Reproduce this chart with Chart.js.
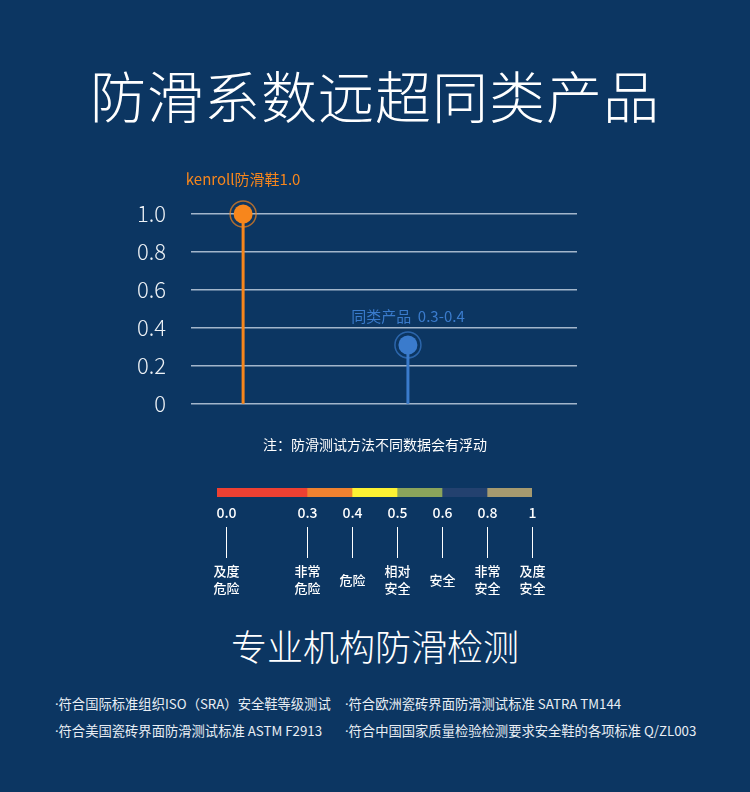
<!DOCTYPE html>
<html>
<head>
<meta charset="utf-8">
<script src="https://cdn.jsdelivr.net/npm/chart.js@4/dist/chart.umd.min.js"></script>
<style>
  body { margin: 0; background: #0c3662; }
  #page { position: relative; width: 750px; height: 792px; background: #0c3662; overflow: hidden;
          font-family: "Noto Sans CJK SC", "Noto Sans", sans-serif; color: #fff; }
  .abs { position: absolute; }
  #title { left: 0; width: 750px; top: 53px; text-align: center; font-size: 56px; font-weight: 300; letter-spacing: 1px; }
  #note { left: 0; width: 750px; top: 434px; text-align: center; font-size: 14px; }
  #sub { left: 0; width: 750px; top: 619px; text-align: center; font-size: 36px; font-weight: 300; }
  .std { font-size: 13.3px; color: #e9eef4; white-space: nowrap; }
  .std b { font-family: "Noto Sans", sans-serif; font-weight: 400; }
</style>
</head>
<body>
<div id="page">
  <div id="title" class="abs">防滑系数远超同类产品</div>
  <div class="abs" style="left:131px; top:160px; width:446px; height:282px;"><canvas id="chartMain"></canvas></div>
  <div id="note" class="abs">注：防滑测试方法不同数据会有浮动</div>
  <div class="abs" style="left:200px; top:478px; width:350px; height:125px;"><canvas id="chartScale"></canvas></div>
  <div id="sub" class="abs">专业机构防滑检测</div>
  <div class="abs std" style="left:55px; top:694px;"><b>·</b>符合国际标准组织ISO（SRA）安全鞋等级测试</div>
  <div class="abs std" style="left:345px; top:694px;"><b>·</b>符合欧洲瓷砖界面防滑测试标准 SATRA TM144</div>
  <div class="abs std" style="left:55px; top:721px;"><b>·</b>符合美国瓷砖界面防滑测试标准 ASTM F2913</div>
  <div class="abs std" style="left:345px; top:721px;"><b>·</b>符合中国国家质量检验检测要求安全鞋的各项标准 Q/ZL003</div>
</div>
<script>
// 数据
const products = ['kenroll防滑鞋1.0', '同类产品  0.3-0.4'];
const productX = [0.135, 0.562];      // 横向位置（隐藏的线性轴）
const productValue = [1.0, 0.31];     // 防滑系数
const productColor = ['#f7861c', '#3a7bcc'];
const yTickLabels = ['0', '0.2', '0.4', '0.6', '0.8', '1.0'];

// 系数色标
const scaleSegments = [2, 1, 1, 1, 1, 1];
const scaleColors = ['#ee4032', '#f08230', '#fdf233', '#8ba45b', '#23416f', '#a69a6f'];
const scaleTickAt = [0.2, 2, 3, 4, 5, 6, 7];
const scaleTickLabels = ['0.0', '0.3', '0.4', '0.5', '0.6', '0.8', '1'];
const scaleLevels = [['及度', '危险'], ['非常', '危险'], ['危险'], ['相对', '安全'], ['安全'], ['非常', '安全'], ['及度', '安全']];

const FONT = '"Noto Sans CJK SC", "Noto Sans", sans-serif';

// 主图：棒棒糖
const stemSets = products.map((p, i) => ({
    type: 'line',
    data: [{x: productX[i], y: 0}, {x: productX[i], y: productValue[i]}],
    borderColor: productColor[i],
    borderWidth: 3,
    pointRadius: 0,
    clip: false,
    order: 3
}));
const ringSet = {
    type: 'scatter',
    data: products.map((p, i) => ({x: productX[i], y: productValue[i]})),
    pointRadius: 13,
    pointBackgroundColor: 'rgba(0,0,0,0)',
    pointBorderColor: productColor.map(c => c + 'b0'),
    pointBorderWidth: 1.5,
    clip: false,
    order: 2
};
const dotSet = {
    type: 'scatter',
    data: products.map((p, i) => ({x: productX[i], y: productValue[i]})),
    pointRadius: 9.5,
    pointBackgroundColor: productColor,
    pointBorderWidth: 0,
    clip: false,
    order: 1
};

// 标签插件
const labelPlugin = {
    id: 'pointLabels',
    afterDatasetsDraw(chart) {
        const {ctx, scales: {x, y}} = chart;
        ctx.save();
        ctx.font = '15px ' + FONT;
        ctx.textAlign = 'center';
        ctx.textBaseline = 'middle';
        products.forEach((p, i) => {
            ctx.fillStyle = productColor[i];
            ctx.fillText(p, x.getPixelForValue(productX[i]), y.getPixelForValue(productValue[i]) - (i === 0 ? 35 : 29));
        });
        ctx.restore();
    }
};

new Chart(document.getElementById('chartMain'), {
    data: { datasets: [...stemSets, ringSet, dotSet] },
    options: {
        responsive: true,
        maintainAspectRatio: false,
        animation: false,
        layout: { autoPadding: false, padding: { top: 54, bottom: 12, left: 0, right: 0 } },
        plugins: { legend: { display: false }, tooltip: { enabled: false } },
        scales: {
            x: { type: 'linear', min: 0, max: 1, display: false },
            y: {
                min: 0, max: 1,
                afterFit: function(axis) { axis.width = 60; },
                border: { display: false },
                grid: { color: 'rgba(190,205,222,0.85)', lineWidth: 1.5, drawTicks: false },
                ticks: {
                    stepSize: 0.2,
                    padding: 25,
                    color: '#eef2f6',
                    font: { size: 22, family: FONT, weight: 300 },
                    callback: function(value, index) { return yTickLabels[index]; }
                }
            }
        }
    },
    plugins: [labelPlugin]
});

// 色标图
const scaleLabelPlugin = {
    id: 'scaleLabels',
    afterDraw(chart) {
        const {ctx, scales: {x}, chartArea} = chart;
        ctx.save();
        ctx.textAlign = 'center';
        ctx.textBaseline = 'middle';
        ctx.fillStyle = '#ffffff';
        ctx.strokeStyle = '#ffffff';
        ctx.lineWidth = 1;
        scaleTickAt.forEach((t, i) => {
            const px = Math.round(x.getPixelForValue(t)) + 0.5;
            ctx.font = '500 14px ' + FONT;
            ctx.fillText(scaleTickLabels[i], px, chartArea.bottom + 16);
            ctx.beginPath();
            ctx.moveTo(px, chartArea.bottom + 30);
            ctx.lineTo(px, chartArea.bottom + 61);
            ctx.stroke();
            ctx.font = '500 13px ' + FONT;
            const lines = scaleLevels[i];
            if (lines.length === 1) {
                ctx.fillText(lines[0], px, chartArea.bottom + 83);
            } else {
                ctx.fillText(lines[0], px, chartArea.bottom + 74);
                ctx.fillText(lines[1], px, chartArea.bottom + 91);
            }
        });
        ctx.restore();
    }
};

new Chart(document.getElementById('chartScale'), {
    type: 'bar',
    data: {
        labels: ['scale'],
        datasets: scaleSegments.map((v, i) => ({
            data: [v],
            backgroundColor: scaleColors[i],
            borderWidth: 0,
            barPercentage: 1,
            categoryPercentage: 1
        }))
    },
    options: {
        indexAxis: 'y',
        responsive: true,
        maintainAspectRatio: false,
        animation: false,
        layout: { padding: { top: 10, bottom: 106, left: 17, right: 18 } },
        plugins: { legend: { display: false }, tooltip: { enabled: false } },
        scales: {
            x: { stacked: true, min: 0, max: 7, display: false },
            y: { stacked: true, display: false }
        }
    },
    plugins: [scaleLabelPlugin]
});
</script>
</body>
</html>
